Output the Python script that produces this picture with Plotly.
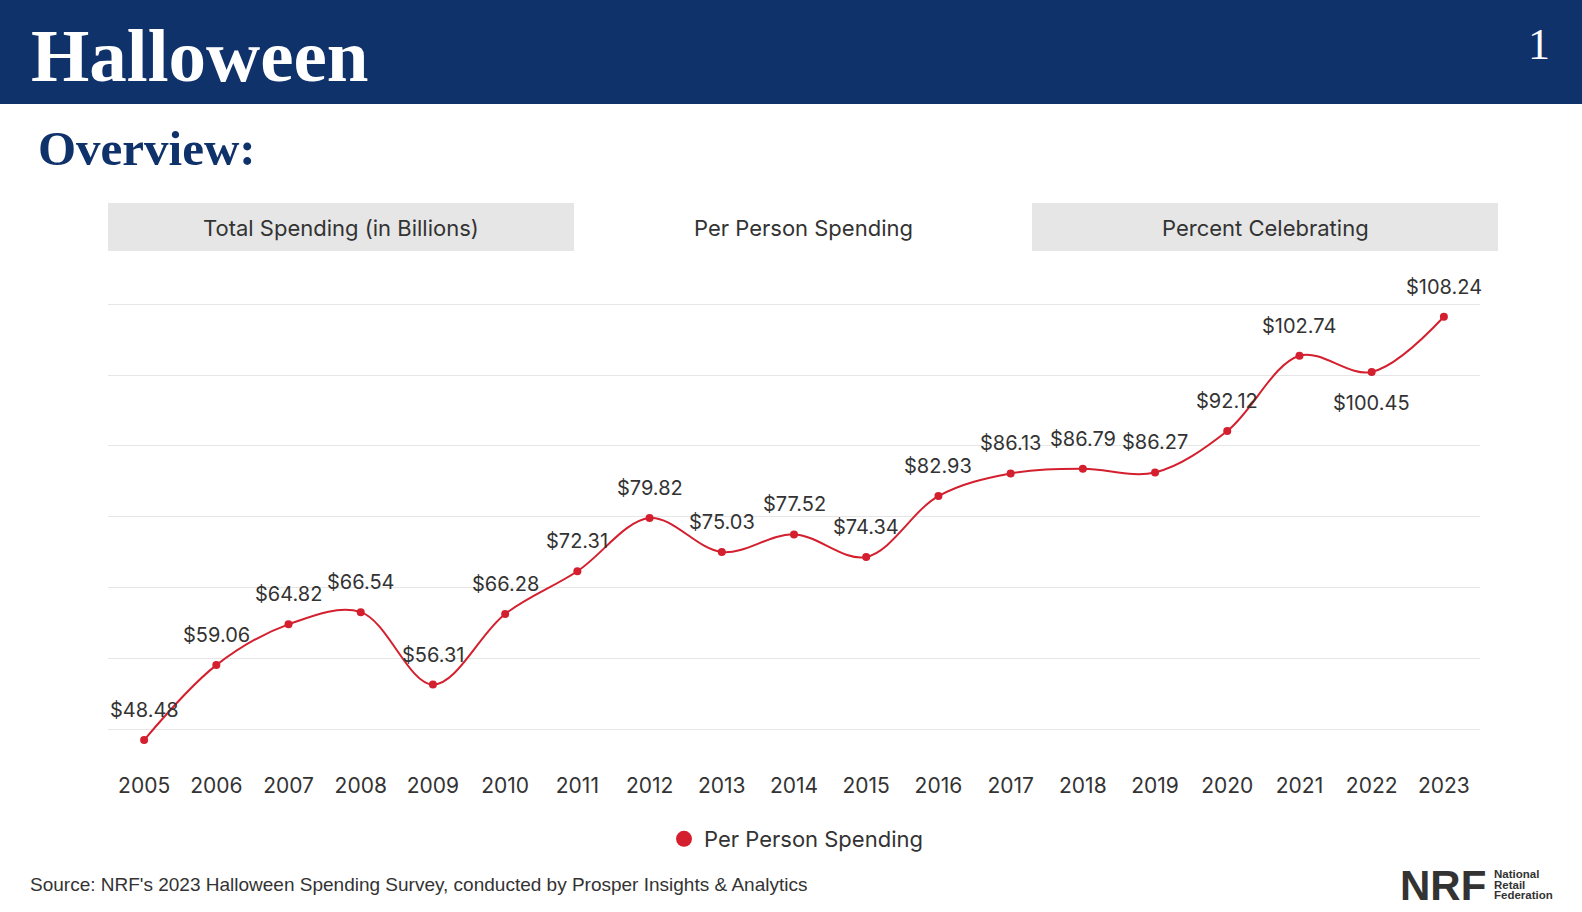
import plotly.graph_objects as go

# ---- data ----
years = ["2005", "2006", "2007", "2008", "2009", "2010", "2011", "2012", "2013", "2014",
         "2015", "2016", "2017", "2018", "2019", "2020", "2021", "2022", "2023"]
per_person = [48.48, 59.06, 64.82, 66.54, 56.31, 66.28, 72.31, 79.82, 75.03, 77.52,
              74.34, 82.93, 86.13, 86.79, 86.27, 92.12, 102.74, 100.45, 108.24]
label_below = ["2022"]
tabs = ["Total Spending (in Billions)", "Per Person Spending", "Percent Celebrating"]
series_name = "Per Person Spending"
page_title = "Halloween"
page_subtitle = "Overview:"
page_number = "1"
source_text = "Source: NRF's 2023 Halloween Spending Survey, conducted by Prosper Insights & Analytics"

W, H = 1582, 912
NAVY = "#10326b"
RED = "#d31f2e"
TXT = "#333333"
SANS = "Inter, 'Open Sans', sans-serif"
SERIF = "'Liberation Serif', 'DejaVu Serif', serif"


def px(x):
    return x / W


def py(y):
    return 1 - y / H


fig = go.Figure()

fig.add_trace(go.Scatter(
    x=years, y=per_person, mode="lines+markers",
    line=dict(color=RED, width=2, shape="spline", smoothing=1.0),
    marker=dict(color=RED, size=8),
    showlegend=False, hoverinfo="x+y", name=series_name,
))
# legend entry (dot only)
fig.add_trace(go.Scatter(
    x=[None], y=[None], mode="markers", name=series_name,
    marker=dict(color=RED, size=16), showlegend=True,
))

annotations = []
for i, (yr, v) in enumerate(zip(years, per_person)):
    below = yr in label_below
    annotations.append(dict(
        x=i, y=v, xref="x", yref="y", text=f"${v:.2f}", showarrow=False,
        xanchor="center", yanchor="middle",
        yshift=-31 if below else 30, font=dict(family=SANS, size=20, color=TXT),
    ))

shapes = []
# header bar
shapes.append(dict(type="rect", xref="paper", yref="paper", x0=0, x1=1, y0=py(104), y1=1,
                   fillcolor=NAVY, line=dict(width=0), layer="below"))
# tabs
tab_edges = [108, 574, 1032, 1498]
for i, t in enumerate(tabs):
    x0, x1 = tab_edges[i], tab_edges[i + 1]
    if i != 1:
        shapes.append(dict(type="rect", xref="paper", yref="paper", x0=px(x0), x1=px(x1),
                           y0=py(251), y1=py(203), fillcolor="#e6e6e6",
                           line=dict(width=0), layer="below"))
    annotations.append(dict(x=px((x0 + x1) / 2), y=py(228), xref="paper", yref="paper",
                            text=t, showarrow=False, xanchor="center", yanchor="middle",
                            font=dict(family=SANS, size=22, color=TXT)))

# header texts
annotations.append(dict(x=px(29), y=py(55), xref="paper", yref="paper", text=f"<b>{page_title}</b>",
                        showarrow=False, xanchor="left", yanchor="middle",
                        font=dict(family=SERIF, size=75, color="white")))
annotations.append(dict(x=px(1539), y=py(45), xref="paper", yref="paper", text=page_number,
                        showarrow=False, xanchor="center", yanchor="middle",
                        font=dict(family=SERIF, size=44, color="white")))
annotations.append(dict(x=px(36), y=py(149), xref="paper", yref="paper", text=f"<b>{page_subtitle}</b>",
                        showarrow=False, xanchor="left", yanchor="middle",
                        font=dict(family=SERIF, size=49, color=NAVY)))
# source
annotations.append(dict(x=px(28), y=py(884), xref="paper", yref="paper", text=source_text,
                        showarrow=False, xanchor="left", yanchor="middle",
                        font=dict(family="'Liberation Sans', Arial, sans-serif", size=19, color=TXT)))
# NRF logo
annotations.append(dict(x=px(1398), y=py(885), xref="paper", yref="paper", text="<b>NRF</b>",
                        showarrow=False, xanchor="left", yanchor="middle",
                        font=dict(family="'Liberation Sans', Arial, sans-serif", size=42, color="#333333")))
for i, w in enumerate(["National", "Retail", "Federation"]):
    annotations.append(dict(x=px(1492), y=py(874 + i * 10.5), xref="paper", yref="paper",
                            text=f"<b>{w}</b>", showarrow=False, xanchor="left", yanchor="middle",
                            font=dict(family="'Liberation Sans', Arial, sans-serif", size=11.5,
                                      color="#333333")))

fig.update_layout(
    width=W, height=H,
    margin=dict(l=0, r=0, t=0, b=0),
    paper_bgcolor="white", plot_bgcolor="white",
    showlegend=True,
    legend=dict(orientation="h", x=px(664), xanchor="left", y=py(839), yanchor="middle",
                font=dict(family=SANS, size=22, color=TXT), bgcolor="rgba(0,0,0,0)"),
    xaxis=dict(domain=[px(108), px(1480)], type="category", range=[-0.5, 18.5],
               showgrid=False, zeroline=False, showline=False,
               ticks="outside", ticklen=2, tickcolor="rgba(0,0,0,0)",
               tickfont=dict(family=SANS, size=21, color=TXT)),
    yaxis=dict(domain=[py(764.7), py(300.8)], range=[45, 110.5], dtick=10, tick0=0,
               showgrid=True, gridcolor="#e6e6e6", gridwidth=1, zeroline=False,
               showline=False, showticklabels=False, ticks=""),
    annotations=annotations, shapes=shapes,
)

fig.write_html("out.html", config={"displayModeBar": False},
               post_script="document.body.style.margin='0';document.body.style.overflow='hidden';")
